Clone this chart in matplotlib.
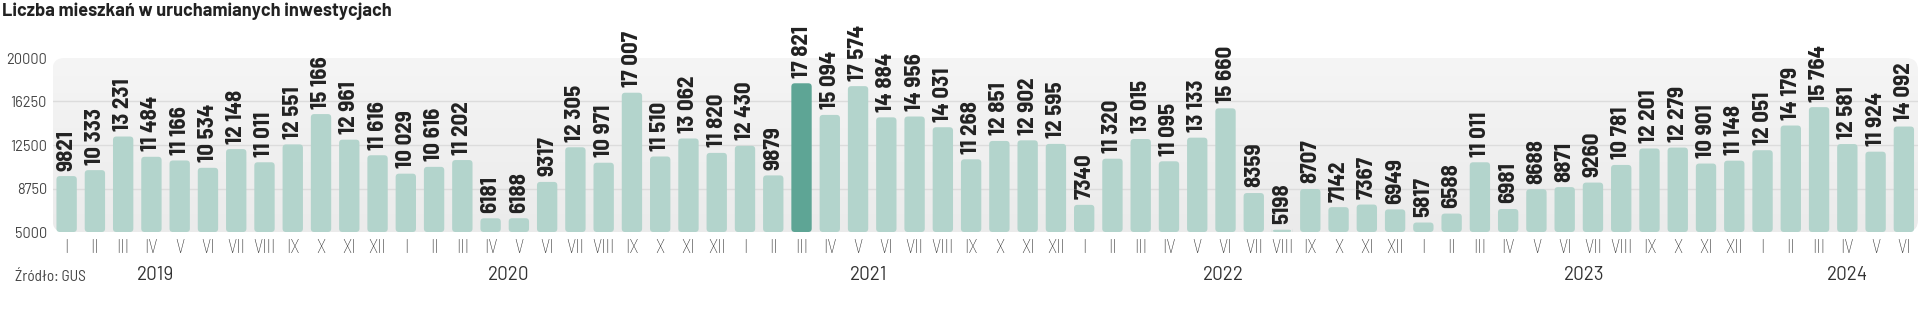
import matplotlib
matplotlib.use("Agg")
import matplotlib.pyplot as plt
import numpy as np
from matplotlib import font_manager as fm
from matplotlib.patches import FancyBboxPatch
from matplotlib.colors import LinearSegmentedColormap
import matplotlib.transforms as mtransforms

# ---------------- data ----------------
title = "Liczba mieszkań w uruchamianych inwestycjach"
source = "Źródło: GUS"
months = ["I", "II", "III", "IV", "V", "VI", "VII", "VIII", "IX", "X", "XI", "XII"]

values_2019 = [9821, 10333, 13231, 11484, 11166, 10534, 12148, 11011, 12551, 15166, 12961, 11616]
values_2020 = [10029, 10616, 11202, 6181, 6188, 9317, 12305, 10971, 17007, 11510, 13062, 11820]
values_2021 = [12430, 9879, 17821, 15094, 17574, 14884, 14956, 14031, 11268, 12851, 12902, 12595]
values_2022 = [7340, 11320, 13015, 11095, 13133, 15660, 8359, 5198, 8707, 7142, 7367, 6949]
values_2023 = [5817, 6588, 11011, 6981, 8688, 8871, 9260, 10781, 12201, 12279, 10901, 11148]
values_2024 = [12051, 14179, 15764, 12581, 11924, 14092]

years = ["2019", "2020", "2021", "2022", "2023", "2024"]
highlight_label = ("2021", "III")

y_ticks = [5000, 8750, 12500, 16250, 20000]

# ---------------- prep ----------------
series = [values_2019, values_2020, values_2021, values_2022, values_2023, values_2024]
all_values = [v for s in series for v in s]
month_labels = (months * len(series))[:len(all_values)]
year_of_bar = [y for y, s in zip(years, series) for _ in s]

names = {f.name for f in fm.fontManager.ttflist}


def pick(*cands):
    for c in cands:
        if c in names:
            return c
    return "DejaVu Sans"


COND = pick("Barlow Semi Condensed", "Encode Sans Semi Condensed", "Asap Condensed", "DejaVu Sans")
REG = pick("Barlow", "Roboto", "DejaVu Sans")
stretch = "condensed" if COND == "DejaVu Sans" else "normal"

W, H = 1920, 310
fig = plt.figure(figsize=(W / 100, H / 100), dpi=100, facecolor="white")

ax_left, ax_right = 52.5, 1918
ax_top, ax_bottom = 58, 232
ax = fig.add_axes([ax_left / W, (H - ax_bottom) / H, (ax_right - ax_left) / W, (ax_bottom - ax_top) / H])
ax.set_facecolor("none")
for s in ax.spines.values():
    s.set_visible(False)

n = len(all_values)
x = np.arange(n)
ax.set_xlim(-0.5, n - 0.5)
ax.set_ylim(5000, 20000)

# background gradient with rounded corners
bg = FancyBboxPatch((0, 0), 1, 1, boxstyle="round,pad=0,rounding_size=%f" % (12 / (ax_right - ax_left)),
                    transform=ax.transAxes, facecolor="none", edgecolor="none",
                    mutation_aspect=(ax_right - ax_left) / (ax_bottom - ax_top))
ax.add_patch(bg)
grad = np.linspace(0, 1, 256).reshape(-1, 1)
cmap = LinearSegmentedColormap.from_list("bg", ["#ebebeb", "#f5f5f5"])
im = ax.imshow(grad, aspect="auto", cmap=cmap, extent=(0, 1, 1, 0), transform=ax.transAxes, zorder=0)
im.set_clip_path(bg)

# gridlines
for t in y_ticks[1:-1]:
    ax.axhline(t, color="#dcdcdc", lw=1.0, zorder=1)

# bars
bar_w = 0.72
base = 5000
aspect = ((20000 - 5000) / (ax_bottom - ax_top)) / (n / (ax_right - ax_left))
for i, v in enumerate(all_values):
    hl = (year_of_bar[i], month_labels[i]) == highlight_label
    color = "#5ea595" if hl else "#b3d4cc"
    p = FancyBboxPatch((x[i] - bar_w / 2, base), bar_w, v - base,
                       boxstyle="round,pad=0,rounding_size=0.12",
                       mutation_aspect=aspect, facecolor=color, edgecolor="none", zorder=2)
    ax.add_patch(p)
    label = f"{v:,}".replace(",", " ") if v >= 10000 else str(v)
    ax.annotate(label, (x[i], v), xytext=(0, 4), textcoords="offset points",
                rotation=90, ha="center", va="bottom", fontsize=16.5, fontweight="bold",
                family=COND, fontstretch=stretch, color="#222222", annotation_clip=False, zorder=3)

# ticks
ax.set_yticks(y_ticks)
ax.set_yticklabels([str(t) for t in y_ticks], fontsize=10.5, color="#444444", family=REG)
ax.set_xticks(x)
ax.set_xticklabels(month_labels, fontsize=13.5, color="#333333", family=COND, fontweight="light",
                   fontstretch=stretch)
ax.tick_params(axis="both", length=0)
ax.tick_params(axis="y", pad=4)
ax.tick_params(axis="x", pad=5)

# year labels (positions as in the original layout)
year_pos = [3.15, 15.65, 28.37, 40.94, 53.7, 63.0]
trans = mtransforms.blended_transform_factory(ax.transData, ax.transAxes)
for yp, yl in zip(year_pos, years):
    ax.text(yp, -(275 - ax_bottom) / (ax_bottom - ax_top), yl, transform=trans, ha="center", va="center",
            fontsize=13.5, color="#333333", family=REG)

fig.text(15 / W, 1 - 277 / H, source, ha="left", va="center", fontsize=11, color="#444444",
         family=COND, fontstretch=stretch)
fig.text(2 / W, 1 - 11.5 / H, title, ha="left", va="center", fontsize=13, fontweight="bold",
         color="#222222", family=REG)

fig.savefig("out.png", dpi=100, facecolor="white")
